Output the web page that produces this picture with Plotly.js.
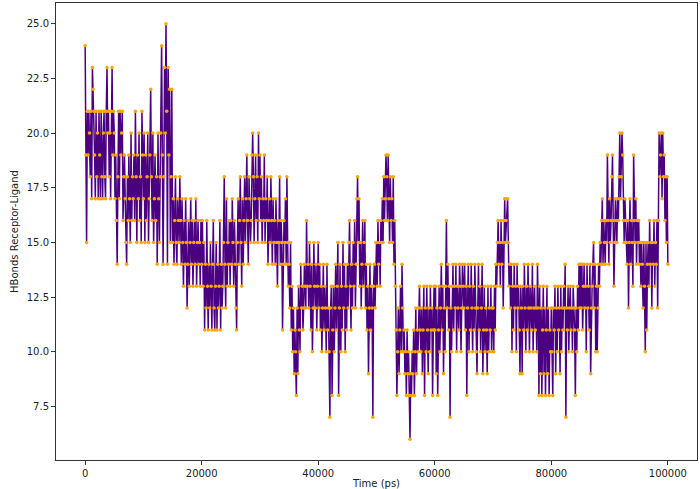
<!DOCTYPE html>
<html>
<head>
<meta charset="utf-8">
<script src="https://cdn.plot.ly/plotly-3.0.1.min.js"></script>
<style>
html,body{margin:0;padding:0;background:#fff;}
#chart{width:700px;height:489px;}
</style>
</head>
<body>
<div id="chart"></div>
<script>
// Sampling interval (ps)
const timeStep = 125;

// H-bond counts, one value every 125 ps (rows of 40 = 5000 ps)
const hbonds = [
  24,19,15,21,19,21,20,18,21,17,23,22,21,19,17,21,18,20,17,21,19,17,21,18,17,20,21,18,17,21,23,20,21,18,20,17,21,23,19,21,
  20,17,19,16,14,18,21,17,21,19,20,21,16,18,19,17,15,14,18,16,19,17,15,20,16,18,17,19,16,21,18,15,19,17,20,16,18,15,21,19,
  17,20,15,19,16,18,20,15,17,19,22,18,16,20,15,17,19,16,18,14,20,17,15,18,20,24,19,14,18,23,20,25,21,14,23,19,22,15,18,22,
  15,17,14,16,18,15,14,17,16,15,18,16,14,17,15,13,16,14,17,15,12,14,16,13,15,17,14,16,13,15,16,14,17,13,15,16,14,15,13,16,
  14,16,13,15,11,14,12,16,13,11,14,12,15,13,11,14,16,12,11,13,15,11,14,12,13,16,11,14,12,13,15,18,14,12,17,13,15,14,16,13,
  16,14,17,15,13,16,14,12,11,15,17,14,16,18,15,13,17,14,16,18,15,17,19,16,14,18,17,15,16,19,20,18,15,17,19,16,18,15,20,17,
  19,16,18,15,17,16,19,15,17,16,18,14,16,17,15,18,16,14,17,15,16,14,17,15,13,16,15,18,14,16,15,11,14,16,15,17,14,18,15,13,
  14,12,15,11,13,10,12,9,11,10,8,12,9,13,11,10,14,12,13,11,12,14,13,12,16,13,14,12,15,13,11,14,10,12,15,13,12,14,11,13,
  15,12,14,11,13,10,12,14,11,13,12,10,14,11,12,10,7,12,13,8,11,13,10,12,14,11,13,15,8,12,14,10,13,11,15,12,14,10,13,11,
  14,12,15,16,13,11,14,12,15,13,16,12,14,17,18,15,17,13,15,12,14,16,13,15,16,12,14,11,13,9,12,14,11,13,12,7,13,14,12,15,
  15,13,16,14,15,13,16,15,17,15,18,16,17,19,18,16,19,17,15,18,16,17,15,18,14,16,13,11,8,10,12,9,11,13,10,14,12,10,11,9,
  10,8,11,9,10,8,6,9,8,10,9,11,8,10,12,9,11,10,12,13,11,10,12,9,11,13,8,12,10,13,11,9,12,10,13,11,12,8,11,13,
  11,13,9,12,8,11,13,10,12,14,11,13,9,12,10,13,16,12,14,11,13,7,12,10,13,14,11,13,12,14,10,13,12,11,14,13,10,12,14,13,
  12,14,11,13,8,12,14,10,13,11,14,12,10,13,11,14,12,10,9,12,14,11,13,10,12,14,9,11,13,10,12,11,9,13,10,12,11,13,10,12,
  12,10,13,11,14,13,15,16,14,15,13,16,14,15,12,16,17,15,16,17,17,15,13,14,12,14,10,13,11,14,12,13,10,14,12,13,11,9,13,12,
  9,13,11,14,12,10,13,11,14,12,10,13,12,11,14,10,12,13,11,12,10,14,12,8,13,9,12,8,11,13,9,12,8,11,13,9,12,8,11,10,
  12,10,8,12,11,13,9,12,10,13,11,12,9,13,10,12,11,13,12,14,7,12,11,13,10,12,13,11,12,10,13,12,11,8,12,10,13,11,14,12,
  14,12,14,11,13,14,12,13,10,14,12,13,11,14,9,12,13,14,15,12,14,10,13,10,12,14,13,15,14,16,17,14,16,15,14,16,15,19,16,14,
  17,15,16,18,19,16,13,15,17,16,15,17,16,18,20,17,18,20,19,16,15,17,16,15,14,16,12,15,17,14,16,15,13,19,16,15,17,14,16,15,
  16,14,15,13,15,14,12,15,13,10,15,11,14,15,13,16,14,15,12,15,14,16,13,15,14,16,12,16,20,18,19,20,17,20,18,19,16,18,15,18,
  14
];

const xTicks = [0, 20000, 40000, 60000, 80000, 100000];
const yTicks = [7.5, 10.0, 12.5, 15.0, 17.5, 20.0, 22.5, 25.0];

const times = hbonds.map((_, i) => i * timeStep);

const trace = {
  x: times,
  y: hbonds,
  type: 'scatter',
  mode: 'lines+markers',
  line: {color: '#4B0082', width: 1.5},
  marker: {color: '#FFA500', size: 3.5, line: {width: 0}},
  hoverinfo: 'x+y'
};

const axisFont = {family: 'DejaVu Sans, sans-serif', size: 10, color: '#222'};

const layout = {
  width: 700,
  height: 489,
  margin: {l: 56, r: 3, t: 3, b: 29},
  paper_bgcolor: '#fff',
  plot_bgcolor: '#fff',
  showlegend: false,
  font: axisFont,
  xaxis: {
    range: [-5000, 105000],
    tickvals: xTicks,
    ticktext: xTicks.map(v => String(v)),
    ticks: 'outside',
    ticklen: 4,
    tickcolor: '#333',
    showgrid: false,
    zeroline: false,
    showline: true,
    mirror: true,
    linecolor: '#333',
    linewidth: 1,
    tickfont: axisFont,
    title: {text: 'Time (ps)', font: axisFont, standoff: 4}
  },
  yaxis: {
    range: [5.05, 25.95],
    tickvals: yTicks,
    ticktext: yTicks.map(v => v.toFixed(1)),
    ticks: 'outside',
    ticklen: 4,
    tickcolor: '#333',
    showgrid: false,
    zeroline: false,
    showline: true,
    mirror: true,
    linecolor: '#333',
    linewidth: 1,
    tickfont: axisFont,
    title: {text: 'HBonds Receptor-Ligand', font: axisFont, standoff: 6}
  }
};

Plotly.newPlot('chart', [trace], layout, {staticPlot: true, displayModeBar: false});
</script>
</body>
</html>
